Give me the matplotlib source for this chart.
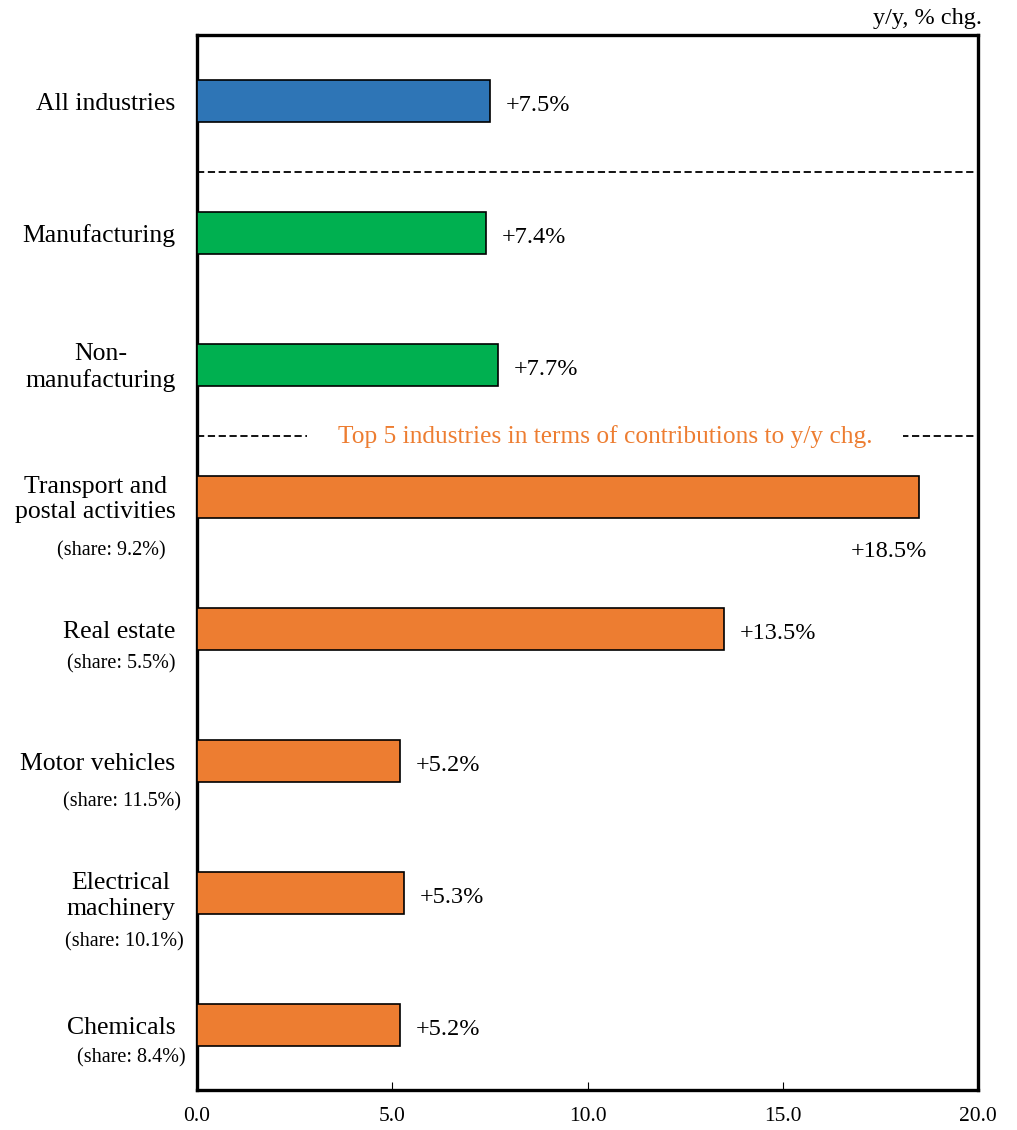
import matplotlib.pyplot as plt
import numpy as np

# data
labels = ['All industries', 'Manufacturing', 'Non-\nmanufacturing',
          'Transport and\npostal activities', 'Real estate', 'Motor vehicles',
          'Electrical\nmachinery', 'Chemicals']
shares = ['', '', '', '(share: 9.2%)', '(share: 5.5%)', '(share: 11.5%)',
          '(share: 10.1%)', '(share: 8.4%)']
values = [7.5, 7.4, 7.7, 18.5, 13.5, 5.2, 5.3, 5.2]
groups = ['all', 'sector', 'sector', 'top', 'top', 'top', 'top', 'top']
xticks = [0.0, 5.0, 10.0, 15.0, 20.0]

colors = {'all': '#2E75B6', 'sector': '#00B050', 'top': '#ED7D31'}

plt.rcParams['font.family'] = ['Liberation Serif', 'DejaVu Serif']

fig = plt.figure(figsize=(10.17, 11.3), dpi=100)
ax = fig.add_axes([0.1937, 0.0354, 0.768, 0.9336])

y = np.arange(len(values))
ax.barh(y, values, height=0.32, color=[colors[g] for g in groups],
        edgecolor='black', linewidth=1.2, zorder=3)

ax.set_xlim(0, 20)
ax.set_ylim(7.49, -0.5)
ax.set_xticks(xticks)
ax.set_xticklabels(['%.1f' % t for t in xticks], fontsize=15.5)
ax.tick_params(axis='x', direction='in', length=6, width=0.8, pad=12)
ax.set_yticks([])
for s in ax.spines.values():
    s.set_linewidth(2.4)

# value labels
for i, v in enumerate(values):
    if v > 18:
        ax.text(v + 0.2, i + 0.41, '+%.1f%%' % v, ha='right', va='center',
                fontsize=17.5)
    else:
        ax.text(v + 0.4, i + 0.03, '+%.1f%%' % v, ha='left', va='center',
                fontsize=17.5)

# category labels
for i, lab in enumerate(labels):
    ax.text(-0.55, i + 0.02, lab, ha='right', va='center',
            multialignment='center', linespacing=1.2, fontsize=18.5)

share_dx = [0, 0, 0, -0.8, -0.55, -0.4, -0.35, -0.3]
share_dy = [0, 0, 0, 0.41, 0.26, 0.31, 0.37, 0.25]
for i, sh in enumerate(shares):
    if sh:
        ax.text(share_dx[i], i + share_dy[i], sh, ha='right', va='center',
                fontsize=14.5)

# separators
ax.axhline(0.54, color='black', linestyle=(0, (4, 2)), linewidth=1.3, zorder=1)
ax.axhline(2.54, color='black', linestyle=(0, (4, 2)), linewidth=1.3, zorder=1)
ax.text(10.45, 2.54, 'Top 5 industries in terms of contributions to y/y chg.',
        ha='center', va='center', fontsize=18.3, color='#ED7D31', zorder=2,
        bbox=dict(boxstyle='square,pad=1.2', facecolor='white',
                  edgecolor='none'))

fig.text(0.966, 0.984, 'y/y, % chg.', ha='right', va='center', fontsize=17.5)

fig.savefig('out.png', dpi=100)
